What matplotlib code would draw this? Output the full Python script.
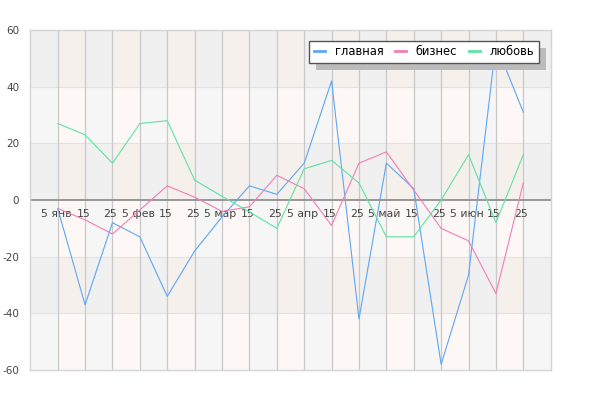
import matplotlib
matplotlib.use("Agg")
import matplotlib.pyplot as plt
import numpy as np
from matplotlib.patches import Rectangle

plt.rcParams['font.family'] = ['DejaVu Sans']
plt.rcParams['axes.unicode_minus'] = False

x_labels = ["5 янв", "15", "25", "5 фев", "15", "25", "5 мар", "15", "25",
            "5 апр", "15", "25", "5 май", "15", "25", "5 июн", "15", "25"]
series_names = ["главная", "бизнес", "любовь"]
glavnaya = [-3, -37, -8, -13, -34, -18, -6, 5, 2, 13, 42, -42, 13, 4, -58, -26.5, 55, 31]
biznes = [-3, -7, -12, -3.5, 5, 1, -4, -2.4, 8.7, 4, -9, 13, 17, 3.5, -10, -14.4, -33, 6]
lyubov = [27, 23, 13, 27, 28, 7, 1.3, -4.2, -10, 11, 14, 6, -13, -13, 0, 16, -8, 16]
y_ticks = [-60, -40, -20, 0, 20, 40, 60]

colors = ['#5ea6f2', '#f27db6', '#5de3a2']
text_color = '#444444'

fig = plt.figure(figsize=(6, 4), dpi=100)
ax = fig.add_axes([30.3 / 600, 30 / 400, 520.4 / 600, 340 / 400])

n = len(x_labels)
xs = np.arange(n)
ax.set_xlim(-1, n)
ax.set_ylim(-60, 60)

# background cells
grey_dark = np.array([240, 240, 240]) / 255
grey_light = np.array([246, 246, 246]) / 255
pink_dark = np.array([246, 240, 237]) / 255
pink_light = np.array([253, 248, 245]) / 255
nrows = len(y_ticks) - 1
ncols = n + 1
img = np.zeros((nrows, ncols, 3))
for r in range(nrows):  # r=0 top row
    dark = (r % 2 == 0)
    for c in range(ncols):
        pink = (c % 2 == 1)
        if pink:
            img[r, c] = pink_dark if dark else pink_light
        else:
            img[r, c] = grey_dark if dark else grey_light
ax.imshow(img, extent=(-1, n, -60, 60), aspect='auto', interpolation='nearest', zorder=0)

# gridlines
for yv in y_ticks:
    if yv not in (-60, 0, 60):
        ax.axhline(yv, color='#e2e2e2', lw=0.8, zorder=1)
for xv in xs:
    ax.axvline(xv, color='#c8c8c8', lw=0.9, zorder=1)
ax.axhline(0, color='#888888', lw=1.2, zorder=1.5)

for vals, c, name in zip([glavnaya, biznes, lyubov], colors, series_names):
    ax.plot(xs, vals, color=c, lw=0.8, label=name, zorder=3)

for s in ax.spines.values():
    s.set_color('#d4d4d4')
    s.set_linewidth(1.0)

ax.set_xticks([])
ax.set_yticks(y_ticks)
ax.tick_params(axis='y', length=0, pad=8, labelsize=7.5, labelcolor=text_color)

for i, lab in enumerate(x_labels):
    ax.text(i - 0.07, -5, lab, ha='center', va='center', fontsize=7.8,
            color=text_color, zorder=2)

leg = ax.legend(loc='upper right', bbox_to_anchor=(539 / 600, 1 - 40.7 / 400),
                bbox_transform=fig.transFigure, ncol=3, frameon=True, fancybox=False,
                fontsize=8.3, handlelength=0.96, handletextpad=0.85, columnspacing=1.0,
                borderpad=0.4, borderaxespad=0)
leg.get_frame().set_edgecolor('#555555')
leg.get_frame().set_linewidth(1.0)
leg.get_frame().set_facecolor('white')
leg.get_frame().set_alpha(1)
for h in leg.get_lines():
    h.set_linewidth(2.0)
leg.set_zorder(6)

fig.canvas.draw()
bb = leg.get_window_extent()
inv = fig.transFigure.inverted()
(x0, y0) = inv.transform((bb.x0 + 7, bb.y0 - 7))
(x1, y1) = inv.transform((bb.x1 + 7, bb.y1 - 7))
shadow = Rectangle((x0, y0), x1 - x0, y1 - y0, transform=fig.transFigure,
                   facecolor='#bbbbbb', edgecolor='none', zorder=5)
ax.add_patch(shadow)

fig.savefig('out.png', dpi=100)
